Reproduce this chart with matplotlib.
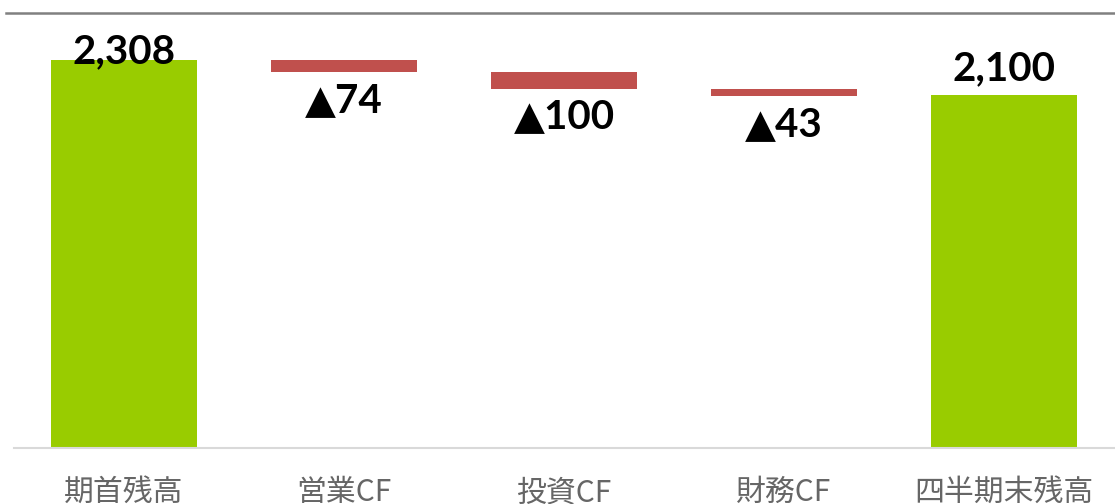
import numpy as np
import matplotlib.pyplot as plt
from matplotlib.lines import Line2D

categories = ['期首残高', '営業CF', '投資CF', '財務CF', '四半期末残高']
start_balance = 2308
changes = [-74, -100, -43]
end_balance = 2100
labels = ['2,308', '▲74', '▲100', '▲43', '2,100']

green = '#99CC00'
red = '#C0504D'

fig = plt.figure(figsize=(11.15, 5.04), dpi=100)
ax = fig.add_axes([14 / 1115, 1 - 448 / 504, 1100 / 1115, (448 - 12.5) / 504])

x = np.arange(len(categories))
w = 0.664

# waterfall: floating bars for changes
cum = start_balance
bottoms = [0]
heights = [start_balance]
for c in changes:
    bottoms.append(cum + c)
    heights.append(-c)
    cum += c
bottoms.append(0)
heights.append(end_balance)
colors = [green] + [red] * len(changes) + [green]

ax.bar(x, heights, bottom=bottoms, width=w, color=colors, zorder=2)

ax.set_xlim(-0.5, len(categories) - 0.5)
ax.set_ylim(0, start_balance * (448 - 12.5) / (448 - 60))

lab_font = dict(fontsize=29, fontweight='bold', color='black',
                family=['Lato', 'DejaVu Sans'])
# start / end labels above the bars
ax.annotate(labels[0], (x[0], heights[0]), xytext=(0, 6), textcoords='offset points',
            ha='center', va='center', **lab_font)
ax.annotate(labels[-1], (x[-1], heights[-1]), xytext=(0, 19), textcoords='offset points',
            ha='center', va='center', **lab_font)
for i in range(1, len(categories) - 1):
    ax.annotate(labels[i], (x[i], bottoms[i]), xytext=(0, -20), textcoords='offset points',
                ha='center', va='center', **lab_font)

ax.set_xticks(x)
ax.set_xticklabels(categories, fontsize=21.5, color='#666666', family=['Noto Sans CJK JP', 'DejaVu Sans'])
ax.tick_params(axis='x', length=0, pad=21)
ax.set_yticks([])
for s in ['top', 'left', 'right']:
    ax.spines[s].set_visible(False)
ax.spines['bottom'].set_color('#d9d9d9')
ax.spines['bottom'].set_linewidth(1.5)

# rule under the (cropped) title
fig.add_artist(Line2D([6 / 1115, 1], [1 - 12.5 / 504] * 2, color='#808080', lw=1.8,
                      transform=fig.transFigure))

fig.savefig('out.png', dpi=100)
